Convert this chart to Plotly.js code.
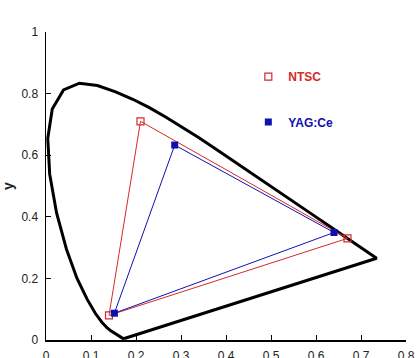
<!DOCTYPE html>
<html><head><meta charset="utf-8">
<script src="https://cdn.plot.ly/plotly-3.0.1.min.js"></script>
<style>html,body{margin:0;padding:0;background:#fff}#chart{width:420px;height:358px}</style>
</head><body><div id="chart"></div>
<script>
// Spectral locus (CIE 1931) read along the drawn boundary
const locusX = [0.1741,0.1738,0.1733,0.1726,0.1714,0.1689,0.1644,0.1566,0.1440,0.1355,0.1241,0.1096,0.0913,0.0687,0.0454,0.0235,0.0082,0.0039,0.0139,0.0389,0.0743,0.1142,0.1547,0.1929,0.2296,0.2658,0.3016,0.3373,0.3731,0.4087,0.4441,0.4788,0.5125,0.5448,0.5752,0.6029,0.6270,0.6482,0.6658,0.6915,0.7079,0.7190,0.7260,0.7300,0.7320,0.7334,0.7347,0.1741];
const locusY = [0.0050,0.0049,0.0048,0.0048,0.0051,0.0069,0.0109,0.0177,0.0297,0.0399,0.0578,0.0868,0.1327,0.2007,0.2950,0.4127,0.5384,0.6548,0.7502,0.8120,0.8338,0.8262,0.8059,0.7816,0.7543,0.7243,0.6923,0.6589,0.6245,0.5896,0.5547,0.5202,0.4866,0.4544,0.4242,0.3965,0.3725,0.3514,0.3340,0.3083,0.2920,0.2809,0.2740,0.2700,0.2680,0.2666,0.2653,0.0050];

// NTSC primaries (R, G, B)
const ntscX = [0.67, 0.21, 0.14];
const ntscY = [0.33, 0.71, 0.08];
// YAG:Ce primaries (R, G, B)
const yagX = [0.640, 0.286, 0.152];
const yagY = [0.349, 0.633, 0.087];

const xTicks = [0,0.1,0.2,0.3,0.4,0.5,0.6,0.7,0.8];
const xTickText = ['0','0.1','0.2','0.3','0.4','0.5','0.6','0.7','0.8'];
const yTicks = [0,0.2,0.4,0.6,0.8,1];
const yTickText = ['0','0.2','0.4','0.6','0.8','1'];

const red = '#d42a2a';
const blue = '#1010b0';

const close = a => a.concat([a[0]]);

const traces = [
  {x: locusX, y: locusY, mode: 'lines', line: {color: '#000', width: 3}, showlegend: false, hoverinfo: 'skip'},
  {x: close(ntscX), y: close(ntscY), mode: 'lines', line: {color: red, width: 1}, showlegend: false},
  {x: close(yagX), y: close(yagY), mode: 'lines', line: {color: blue, width: 1}, showlegend: false},
  {x: ntscX, y: ntscY, mode: 'markers', name: '<b>NTSC</b>', legend: 'legend',
   marker: {symbol: 'square-open', size: 7, color: red, line: {width: 1.2, color: red}}},
  {x: yagX, y: yagY, mode: 'markers', name: '<b>YAG:Ce</b>', legend: 'legend2',
   marker: {symbol: 'square', size: 7, color: blue}}
];

const axisFont = {family: 'Liberation Sans, Arial, sans-serif', size: 12, color: '#222'};

const layout = {
  width: 420, height: 358,
  margin: {l: 46, r: 14, t: 32, b: 18},
  paper_bgcolor: '#fff', plot_bgcolor: '#fff',
  font: {family: 'Liberation Sans, Arial, sans-serif'},
  xaxis: {range: [0, 0.8], tickvals: xTicks, ticktext: xTickText, ticks: 'inside', ticklen: 5,
          tickcolor: '#000', showgrid: false, zeroline: false, showline: true, linecolor: '#000',
          linewidth: 1.5, tickfont: axisFont, ticklabelstandoff: 4},
  yaxis: {range: [0, 1], tickvals: yTicks, ticktext: yTickText, ticks: 'inside', ticklen: 5,
          tickcolor: '#000', showgrid: false, zeroline: false, showline: true, linecolor: '#000',
          linewidth: 1.5, tickfont: axisFont, ticklabelstandoff: 4,
          title: {text: '<b>y</b>', font: {size: 14, color: '#222'}, standoff: 8}},
  legend: {x: 0.562, y: 0.855, xanchor: 'left', yanchor: 'middle', bgcolor: 'rgba(0,0,0,0)',
           font: {size: 12, color: red}},
  legend2: {x: 0.562, y: 0.708, xanchor: 'left', yanchor: 'middle', bgcolor: 'rgba(0,0,0,0)',
           font: {size: 12, color: blue}},
  showlegend: true
};

Plotly.newPlot('chart', traces, layout, {staticPlot: true, displayModeBar: false});
</script></body></html>
